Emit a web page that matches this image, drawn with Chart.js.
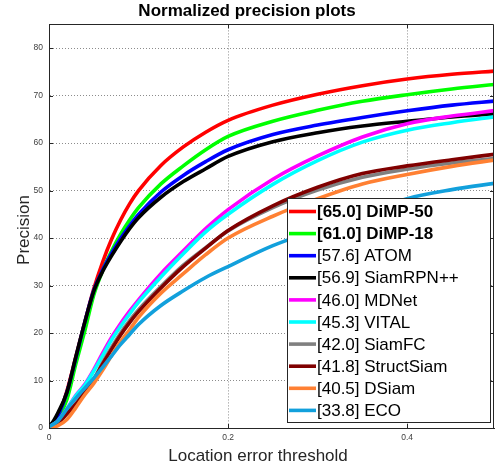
<!DOCTYPE html>
<html>
<head>
<meta charset="utf-8">
<script src="https://cdn.jsdelivr.net/npm/chart.js@4.4.1/dist/chart.umd.min.js"></script>
<style>
html,body{margin:0;padding:0;background:#fff}
#wrap{width:495px;height:466px;position:relative}
</style>
</head>
<body>
<div id="wrap"><canvas id="c" width="495" height="466"></canvas></div>
<script>
// ---------- data ----------
const thresholds = [0, 0.005, 0.01, 0.02, 0.03, 0.04, 0.05, 0.06, 0.07, 0.08, 0.09, 0.1, 0.125, 0.15, 0.175, 0.2, 0.25, 0.3, 0.35, 0.4, 0.45, 0.5];
const trackerNames = ['[65.0] DiMP-50', '[61.0] DiMP-18', '[57.6] ATOM', '[56.9] SiamRPN++', '[46.0] MDNet', '[45.3] VITAL', '[42.0] SiamFC', '[41.8] StructSiam', '[40.5] DSiam', '[33.8] ECO'];
const dimp50     = [0.3, 0.8, 2.2, 7.8, 15, 22.3, 29.3, 35.0, 39.8, 43.8, 47.2, 50.0, 55.3, 59.2, 62.3, 64.8, 68.0, 70.3, 72.1, 73.5, 74.5, 75.2];
const dimp18     = [0.3, 0.8, 2, 6, 13.5, 20.5, 28.0, 33.2, 37.3, 40.8, 43.8, 46.4, 51.4, 55.2, 58.6, 61.4, 64.6, 66.9, 68.8, 70.2, 71.4, 72.4];
const atom       = [0.3, 0.8, 2.5, 7.5, 14.8, 22.3, 29.0, 33.3, 36.8, 39.9, 42.6, 45.0, 49.7, 53.2, 56.1, 58.6, 61.8, 63.8, 65.4, 66.8, 68, 68.9];
const siamrpnpp  = [0.3, 1.5, 3.2, 7.5, 15, 22.3, 28.8, 33.0, 36.3, 39.3, 42.0, 44.3, 48.6, 51.9, 54.6, 57.2, 60.3, 62.2, 63.6, 64.6, 65.5, 66.2];
const mdnet      = [0.3, 0.8, 1.5, 4, 6.9, 9.2, 12.3, 15.8, 19.1, 22.0, 24.6, 27.0, 32.5, 37.3, 42, 46, 52.4, 57.3, 61.3, 64.1, 65.7, 66.9];
const vital      = [0.3, 0.8, 1.5, 4, 6.8, 9, 12, 15.3, 18.6, 21.4, 24.0, 26.5, 31.8, 36.7, 41.3, 45, 51.3, 56.3, 60.2, 62.7, 64.3, 65.6];
const siamfc     = [0.3, 0.5, 1, 3, 5.2, 7.7, 10.3, 13.8, 17, 20, 22.6, 24.9, 29.8, 34.3, 38, 41.5, 46.4, 50.1, 52.8, 54.5, 55.8, 56.8];
const structsiam = [0.3, 0.5, 1, 3, 5, 7.5, 10.1, 13.5, 16.6, 19.6, 22.2, 24.5, 29.5, 34, 37.9, 41.6, 46.8, 50.7, 53.6, 55.2, 56.5, 57.7];
const dsiam      = [0, 0.2, 0.5, 1.8, 4.3, 7, 9.4, 12.2, 15.3, 18.2, 20.7, 23.3, 28.4, 32.5, 36.5, 40, 44.6, 48.3, 51.4, 53.4, 55.1, 56.5];
const eco        = [0.3, 0.8, 1.5, 4, 6.3, 8.4, 10.5, 12.8, 15.2, 17.6, 19.7, 21.8, 25.8, 28.9, 31.7, 34, 38.4, 41.8, 45, 48.3, 50.2, 51.6];
const xTickValues = [0, 0.2, 0.4];
const yTickValues = [0, 10, 20, 30, 40, 50, 60, 70, 80];

// ---------- styles ----------
const seriesList = [dimp50, dimp18, atom, siamrpnpp, mdnet, vital, siamfc, structsiam, dsiam, eco];
const colors = ['#ff0000', '#00ff00', '#0000ff', '#000000', '#ff00ff', '#00ffff', '#808080', '#800000', '#ff8033', '#12a0dc'];
const boldLegend = [true, true, false, false, false, false, false, false, false, false];
const FONT = "'Liberation Sans', Arial, Helvetica, sans-serif";

const datasets = seriesList.map((vals, i) => ({
  label: trackerNames[i],
  data: vals.map((v, j) => ({x: thresholds[j], y: v})),
  borderColor: colors[i],
  backgroundColor: colors[i],
  borderWidth: 3.6,
  pointRadius: 0,
  pointHoverRadius: 0,
  fill: false,
  cubicInterpolationMode: 'monotone',
  order: seriesList.length - i
}));

const matlabDecor = {
  id: 'matlabDecor',
  afterDraw(chart) {
    const {ctx, chartArea: a, scales: {x, y}} = chart;
    ctx.save();
    // top and right box lines + inward ticks
    ctx.strokeStyle = '#262626';
    ctx.lineWidth = 1;
    ctx.beginPath();
    ctx.moveTo(a.left, Math.round(a.top) + 0.5);
    ctx.lineTo(Math.round(a.right) - 0.5, Math.round(a.top) + 0.5);
    ctx.lineTo(Math.round(a.right) - 0.5, a.bottom);
    const tl = 4;
    x.ticks.forEach(t => {
      const px = Math.round(x.getPixelForValue(t.value)) + 0.5;
      ctx.moveTo(px, a.bottom); ctx.lineTo(px, a.bottom - tl);
      ctx.moveTo(px, a.top); ctx.lineTo(px, a.top + tl);
    });
    y.ticks.forEach(t => {
      const py = Math.round(y.getPixelForValue(t.value)) + 0.5;
      ctx.moveTo(a.left, py); ctx.lineTo(a.left + tl, py);
      ctx.moveTo(a.right, py); ctx.lineTo(a.right - tl, py);
    });
    ctx.stroke();

    // axis labels
    ctx.fillStyle = '#262626';
    ctx.font = '17px ' + FONT;
    ctx.textAlign = 'center';
    ctx.textBaseline = 'alphabetic';
    ctx.fillText('Location error threshold', 258, 461);
    ctx.save();
    ctx.translate(28.5, 230);
    ctx.rotate(-Math.PI / 2);
    ctx.fillText('Precision', 0, 0);
    ctx.restore();

    // legend box
    const L = 287, T = 198, R = 491, B = 423;
    ctx.fillStyle = '#ffffff';
    ctx.fillRect(L, T, R - L, B - T);
    ctx.strokeStyle = '#262626';
    ctx.lineWidth = 1;
    ctx.strokeRect(L + 0.5, T + 0.5, R - L - 1, B - T - 1);
    const y0 = 211.5, step = 22.1;
    chart.data.datasets.forEach((ds, i) => {
      const yy = y0 + i * step;
      ctx.strokeStyle = ds.borderColor;
      ctx.lineWidth = 3.6;
      ctx.beginPath();
      ctx.moveTo(289, yy);
      ctx.lineTo(316, yy);
      ctx.stroke();
      ctx.fillStyle = '#000';
      ctx.font = (boldLegend[i] ? 'bold ' : '') + '17px ' + FONT;
      ctx.textAlign = 'left';
      ctx.textBaseline = 'middle';
      ctx.fillText(ds.label, 317, yy + 1);
    });
    ctx.restore();
  }
};

new Chart(document.getElementById('c'), {
  type: 'line',
  data: {datasets},
  options: {
    responsive: false,
    animation: false,
    events: [],
    layout: {padding: {left: 0, right: 1, top: 0, bottom: 0}},
    plugins: {
      legend: {display: false},
      tooltip: {enabled: false},
      title: {
        display: true,
        text: 'Normalized precision plots',
        color: '#000',
        font: {family: FONT, size: 17, weight: 'bold', lineHeight: 1.2},
        padding: {top: 1, bottom: 3}
      }
    },
    scales: {
      x: {
        type: 'linear',
        min: 0,
        max: 0.497,
        afterFit: s => { s.height = 38; },
        afterBuildTicks: s => { s.ticks = xTickValues.map(v => ({value: v})); },
        ticks: {
          includeBounds: false,
          color: '#404040',
          font: {family: FONT, size: 8.5},
          padding: 5,
          maxRotation: 0,
          callback: v => (v === 0 ? '0' : String(v))
        },
        grid: {color: '#8c8c8c', lineWidth: 1, drawTicks: false},
        border: {display: true, color: '#262626', width: 1, dash: [1, 2]}
      },
      y: {
        type: 'linear',
        min: 0,
        max: 85,
        afterFit: s => { s.width = 49; },
        afterBuildTicks: s => { s.ticks = yTickValues.map(v => ({value: v})); },
        ticks: {
          includeBounds: false,
          color: '#404040',
          font: {family: FONT, size: 8.5},
          padding: 6
        },
        grid: {color: '#8c8c8c', lineWidth: 1, drawTicks: false},
        border: {display: true, color: '#262626', width: 1, dash: [1, 2]}
      }
    }
  },
  plugins: [matlabDecor]
});
</script>
</body>
</html>
